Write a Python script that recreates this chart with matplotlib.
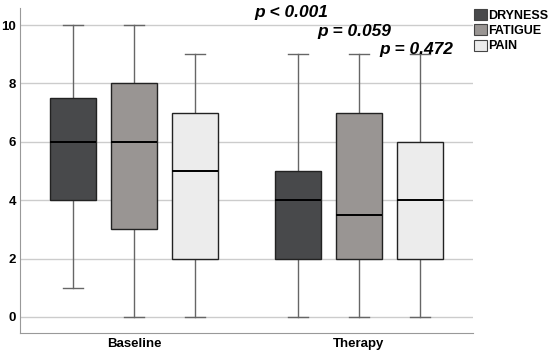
import matplotlib.pyplot as plt
from matplotlib.patches import Patch

# box statistics: (whislo, q1, med, q3, whishi)
groups = ["Baseline", "Therapy"]
series = ["DRYNESS", "FATIGUE", "PAIN"]
colors = ["#48494b", "#999593", "#ececec"]

baseline_stats = [(1, 4, 6, 7.5, 10), (0, 3, 6, 8, 10), (0, 2, 5, 7, 9)]
therapy_stats = [(0, 2, 4, 5, 9), (0, 2, 3.5, 7, 9), (0, 2, 4, 6, 9)]
p_labels = ["p < 0.001", "p = 0.059", "p = 0.472"]

plt.rcParams["font.family"] = ["Liberation Sans", "DejaVu Sans"]

fig = plt.figure(figsize=(5.5, 3.53), dpi=100)
ax = fig.add_axes([0.0364, 0.0567, 0.8236, 0.9203])

group_centers = [2, 5.69]
offsets = [-1, 0, 1]

for gi, stats in enumerate([baseline_stats, therapy_stats]):
    for si, s in enumerate(stats):
        lo, q1, med, q3, hi = s
        pos = group_centers[gi] + offsets[si]
        bxp = ax.bxp([dict(whislo=lo, q1=q1, med=med, q3=q3, whishi=hi, fliers=[])],
                     positions=[pos], widths=0.75, patch_artist=True,
                     showfliers=False, manage_ticks=False,
                     boxprops=dict(facecolor=colors[si], edgecolor="#222222", linewidth=1.0),
                     medianprops=dict(color="black", linewidth=1.4),
                     whiskerprops=dict(color="#666666", linewidth=1.0),
                     capprops=dict(color="#666666", linewidth=1.0),
                     capwidths=0.33)
        for el in bxp["boxes"] + bxp["medians"]:
            el.set_zorder(3)

ax.set_xlim(0.13, 7.56)
ax.set_ylim(-0.55, 10.58)
ax.set_yticks([0, 2, 4, 6, 8, 10])
ax.set_xticks(group_centers)
ax.set_xticklabels(groups)
ax.yaxis.grid(True, color="#cccccc", linewidth=1.0, zorder=0)
ax.set_axisbelow(True)
for side in ["top", "right"]:
    ax.spines[side].set_visible(False)
for side in ["left", "bottom"]:
    ax.spines[side].set_color("#999999")
ax.tick_params(length=0, labelsize=9.5)
ax.tick_params(axis="y", pad=3)
for lbl in ax.get_xticklabels() + ax.get_yticklabels():
    lbl.set_fontweight("bold")

# p-value annotations
p_pos = [(0.462, 0.965), (0.577, 0.911), (0.690, 0.860)]
for (px, py), txt in zip(p_pos, p_labels):
    fig.text(px, py, txt, fontsize=12.5, fontweight="bold", fontstyle="italic",
             va="center", ha="left")

handles = [Patch(facecolor=c, edgecolor="#444444", linewidth=0.8) for c in colors]
fig.legend(handles, series, loc="upper left", bbox_to_anchor=(0.846, 1.0),
           frameon=False, prop=dict(weight="bold", size=9),
           handlelength=1.0, handleheight=1.0, handletextpad=0.12,
           labelspacing=0.2, borderaxespad=0.3)

fig.savefig("out.png", dpi=100)
